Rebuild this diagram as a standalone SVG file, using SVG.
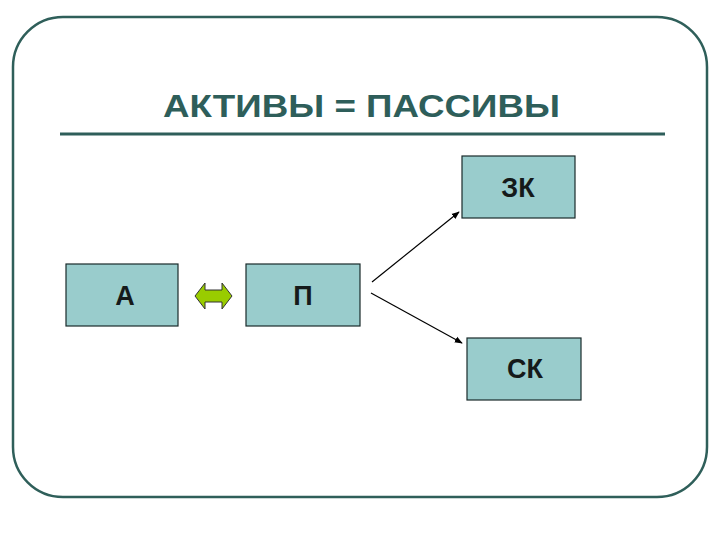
<svg xmlns="http://www.w3.org/2000/svg" width="720" height="540" viewBox="0 0 720 540">
<style>
.box{fill:#99cccc;stroke:#1a2a2a;stroke-width:1.2}
.lbl{font-family:"Liberation Sans",Arial,sans-serif;font-size:27px;font-weight:bold;fill:#151a1a;text-anchor:middle}
.title{font-family:"Liberation Sans",Arial,sans-serif;font-size:31px;font-weight:bold;fill:#2e5e5a}
.conn{stroke:#000;stroke-width:1.2;fill:none;marker-end:url(#ah)}
</style>
<defs>
<marker id="ah" viewBox="0 0 10 10" refX="9" refY="5" markerWidth="8" markerHeight="8" markerUnits="userSpaceOnUse" orient="auto">
<path d="M0,1 L10,5 L0,9 Z" fill="#000"/>
</marker>
</defs>
<rect width="720" height="540" fill="#fff"/>
<rect x="13" y="17" width="694" height="480" rx="50" ry="50" fill="none" stroke="#2f5f5a" stroke-width="2.5"/>
<g id="title">
<text class="title" x="163" y="117" textLength="397" lengthAdjust="spacingAndGlyphs">АКТИВЫ = ПАССИВЫ</text>
<line x1="60" y1="134" x2="665" y2="134" stroke="#2e5e5a" stroke-width="3"/>
</g>
<g id="node-a">
<rect class="box" x="66" y="264" width="112" height="62"/>
<text class="lbl" x="125" y="305">А</text>
</g>
<g id="node-p">
<rect class="box" x="246" y="264" width="114" height="62"/>
<text class="lbl" x="303" y="305">П</text>
</g>
<g id="node-zk">
<rect class="box" x="462" y="156" width="113" height="62"/>
<text class="lbl" x="518" y="197">ЗК</text>
</g>
<g id="node-sk">
<rect class="box" x="467" y="338" width="114" height="62"/>
<text class="lbl" x="525" y="378">СК</text>
</g>
<g id="connectors">
<path d="M195,296 L205,283 L205,290 L222,290 L222,283 L232,296 L222,309 L222,302 L205,302 L205,309 Z" fill="#99cc00" stroke="#333" stroke-width="1"/>
<line class="conn" x1="372" y1="282" x2="459" y2="212"/>
<line class="conn" x1="371" y1="293" x2="462" y2="343"/>
</g>
</svg>
